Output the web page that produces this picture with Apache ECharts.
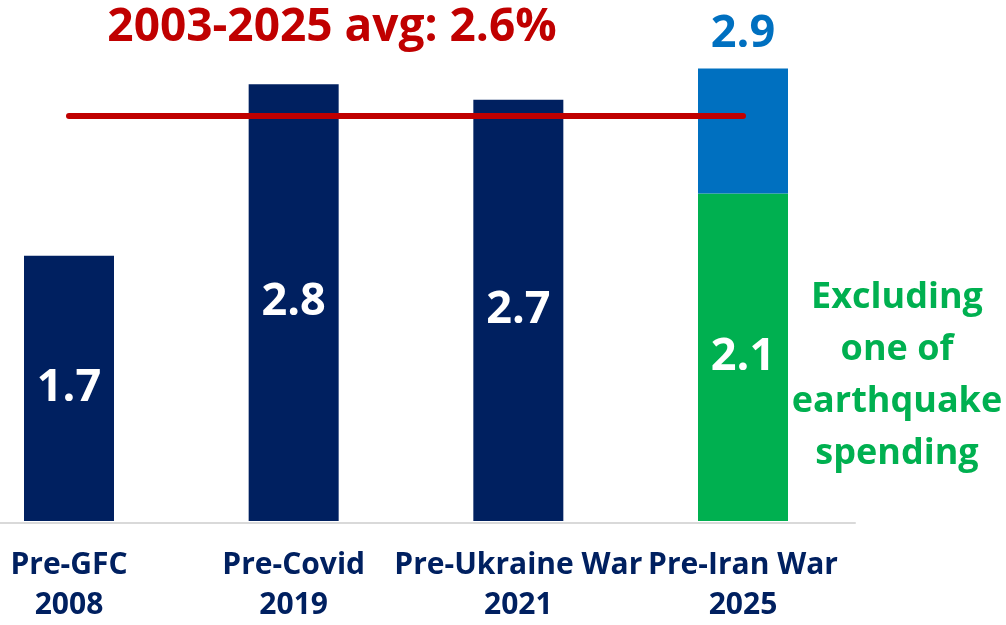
<!DOCTYPE html>
<html>
<head>
<meta charset="utf-8">
<script src="https://cdn.jsdelivr.net/npm/echarts@6/dist/echarts.min.js"></script>
<style>
  html, body { margin: 0; padding: 0; background: #fff; }
  #main { width: 1006px; height: 625px; }
</style>
</head>
<body>
<div id="main"></div>
<script>
// data
const categories = ['Pre-GFC\n2008', 'Pre-Covid\n2019', 'Pre-Ukraine War\n2021', 'Pre-Iran War\n2025'];
const pastValues = [1.7, 2.8, 2.7, '-'];
const exQuake = ['-', '-', '-', 2.1];      // excluding one-off earthquake spending
const quakePart = ['-', '-', '-', 0.8];    // earthquake spending on top
const avgValue = 2.6;

const FONT = '"Open Sans", "DejaVu Sans", sans-serif';

const chart = echarts.init(document.getElementById('main'));

const option = {
  animation: false,
  grid: [
    {left: 69, right: 263, top: 53, bottom: 103},
    {left: 0, width: 855, top: 53, bottom: 102}
  ],
  xAxis: [
    {
      type: 'category',
      data: categories,
      boundaryGap: false,
      axisLine: {show: false},
      axisTick: {show: false},
      axisLabel: {
        interval: 0,
        margin: 24,
        color: '#002060',
        fontFamily: FONT,
        fontWeight: 'bold',
        fontSize: 30,
        lineHeight: 40
      }
    },
    {
      gridIndex: 1,
      type: 'value',
      min: 0, max: 1,
      axisLine: {show: true, onZero: false, lineStyle: {color: '#D9D9D9', width: 2}},
      axisTick: {show: false},
      axisLabel: {show: false},
      splitLine: {show: false}
    }
  ],
  yAxis: [
    {type: 'value', min: 0, max: 3, show: false},
    {gridIndex: 1, type: 'value', min: 0, max: 3, show: false}
  ],
  series: [
    {
      type: 'bar',
      stack: 'all',
      data: pastValues,
      barWidth: 90,
      itemStyle: {color: '#002060'},
      label: {
        show: true,
        position: 'inside',
        color: '#fff',
        fontFamily: FONT,
        fontWeight: 'bold',
        fontSize: 45,
        formatter: p => p.value.toFixed(1)
      }
    },
    {
      type: 'bar',
      stack: 'all',
      data: exQuake,
      barWidth: 90,
      itemStyle: {color: '#00B050'},
      label: {
        show: true,
        position: 'inside',
        color: '#fff',
        fontFamily: FONT,
        fontWeight: 'bold',
        fontSize: 45,
        formatter: p => p.value.toFixed(1)
      }
    },
    {
      type: 'bar',
      stack: 'all',
      data: quakePart,
      barWidth: 90,
      itemStyle: {color: '#0070C0'},
      label: {
        show: true,
        position: 'top',
        distance: 12,
        color: '#0070C0',
        fontFamily: FONT,
        fontWeight: 'bold',
        fontSize: 45,
        formatter: p => (exQuake[p.dataIndex] + p.value).toFixed(1)
      },
      markLine: {
        silent: true,
        symbol: 'none',
        label: {show: false},
        lineStyle: {color: '#C00000', width: 6, type: 'solid', cap: 'round'},
        data: [[
          {coord: [0, avgValue]},
          {coord: [3, avgValue]}
        ]]
      }
    }
  ],
  graphic: [
    {
      type: 'text',
      x: 332, y: 28,
      style: {
        text: '2003-2025 avg: 2.6%',
        fill: '#C00000',
        font: 'bold 46px ' + FONT,
        textAlign: 'center',
        textVerticalAlign: 'middle'
      }
    },
    {
      type: 'text',
      x: 897, y: 272,
      style: {
        text: 'Excluding\none of\nearthquake\nspending',
        fill: '#00B050',
        font: 'bold 36px ' + FONT,
        lineHeight: 52,
        textAlign: 'center',
        textVerticalAlign: 'top'
      }
    }
  ]
};

chart.setOption(option);
</script>
</body>
</html>
